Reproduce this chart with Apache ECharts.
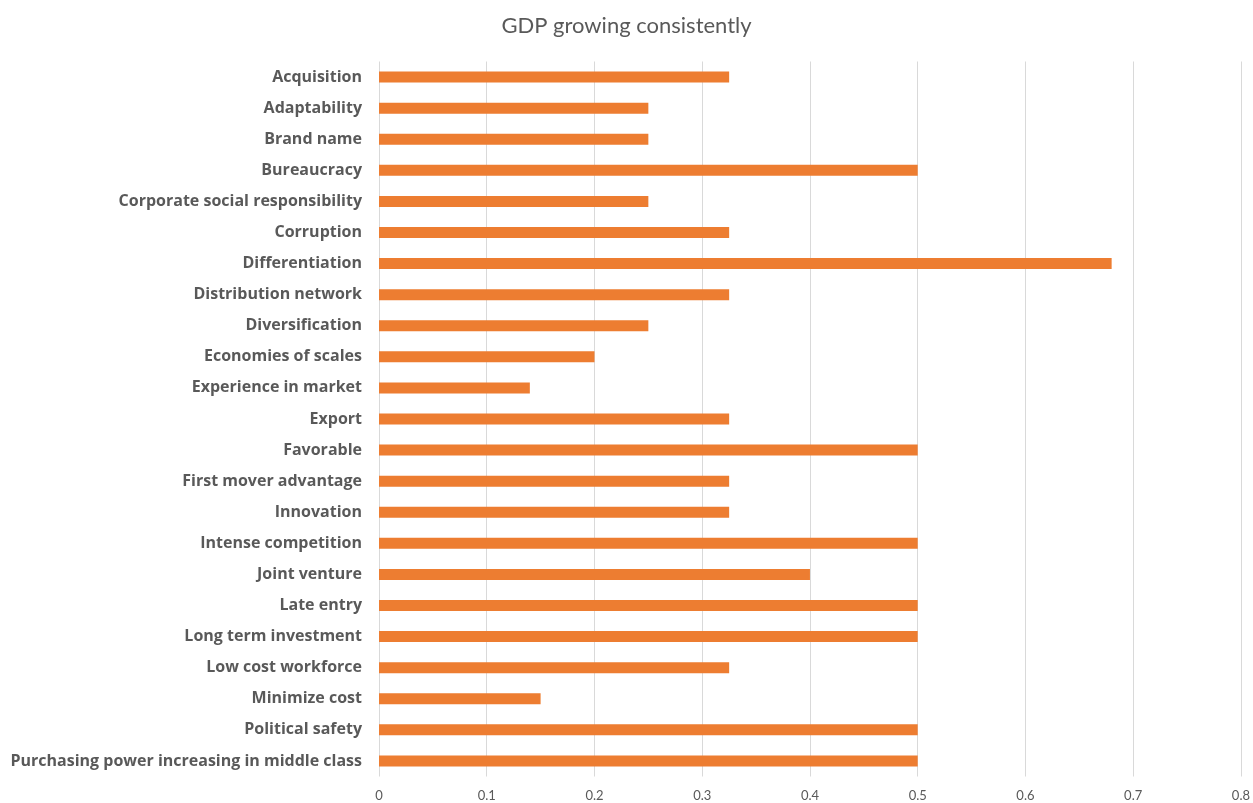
<!DOCTYPE html>
<html>
<head>
<meta charset="utf-8">
<script src="https://cdn.jsdelivr.net/npm/echarts@6/dist/echarts.min.js"></script>
<style>html,body{margin:0;padding:0;background:#fff}#c{width:1253px;height:803px}</style>
</head>
<body>
<div id="c"></div>
<script>
const categories = ["Acquisition","Adaptability","Brand name","Bureaucracy","Corporate social responsibility","Corruption","Differentiation","Distribution network","Diversification","Economies of scales","Experience in market","Export","Favorable","First mover advantage","Innovation","Intense competition","Joint venture","Late entry","Long term investment","Low cost workforce","Minimize cost","Political safety","Purchasing power increasing in middle class"];
const values = [0.325,0.25,0.25,0.5,0.25,0.325,0.68,0.325,0.25,0.2,0.14,0.325,0.5,0.325,0.325,0.5,0.4,0.5,0.5,0.325,0.15,0.5,0.5];
const xTicks = [0,0.1,0.2,0.3,0.4,0.5,0.6,0.7,0.8];
const titleText = "GDP growing consistently";

const chart = echarts.init(document.getElementById('c'));
chart.setOption({
  animation: false,
  title: {text: titleText, left: 'center', top: 10, textStyle: {fontFamily: 'Lato', fontWeight: 'normal', fontSize: 22, color: '#595959'}},
  grid: {left: 379, right: 11, top: 61.5, bottom: 26.5, containLabel: false},
  xAxis: {
    type: 'value', min: 0, max: 0.8, interval: 0.1,
    axisLine: {show: false}, axisTick: {show: false},
    splitLine: {lineStyle: {color: '#d9d9d9', width: 1}},
    axisLabel: {color: '#595959', fontFamily: 'Lato', fontSize: 13, margin: 13,
      formatter: v => { const t = xTicks.find(x => Math.abs(x - v) < 1e-9); return t === undefined ? '' : String(t); }}
  },
  yAxis: {
    type: 'category', data: categories, inverse: true,
    axisLine: {show: false}, axisTick: {show: false},
    axisLabel: {color: '#595959', fontFamily: 'Open Sans', fontWeight: 'bold', fontSize: 16, margin: 17}
  },
  series: [{type: 'bar', data: values, barWidth: 11, itemStyle: {color: '#ED7D31'}}]
});
</script>
</body>
</html>
